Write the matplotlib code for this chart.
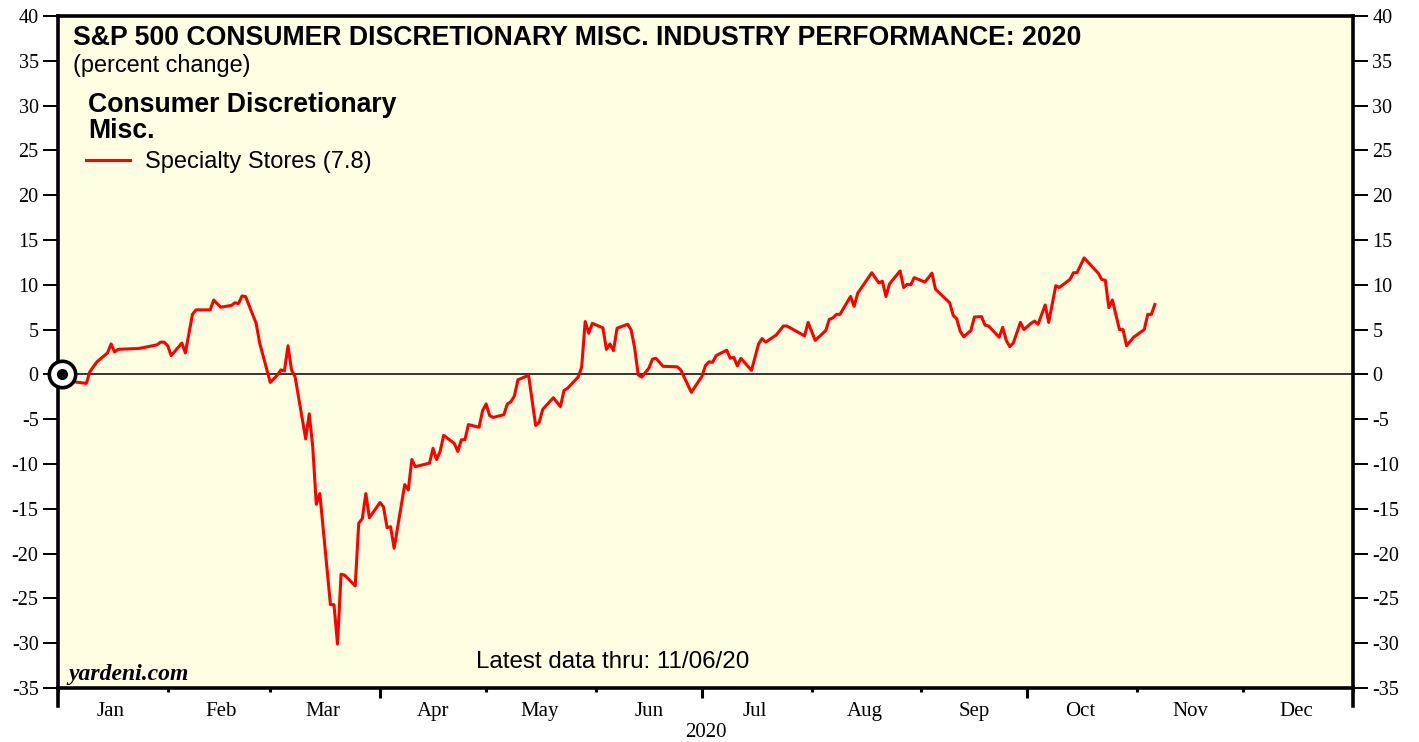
#! /usr/bin/env python3
import numpy as np
import pandas as pd
import matplotlib
matplotlib.use("Agg")
import matplotlib.pyplot as plt
import matplotlib.dates as mdates
import matplotlib.transforms as mtransforms

# day of year (0 = Jan 1 2020) and percent change since start of year
days = [1, 4, 8, 9, 11, 14, 15, 16, 17, 23, 28, 29, 30, 31, 32, 35, 36, 38, 39, 43,
        44, 46, 49, 50, 51, 52, 53, 56, 57, 60, 62, 63, 64, 65, 66, 67, 70, 71, 72, 73,
        74, 77, 78, 79, 80, 81, 84, 85, 86, 87, 88, 91, 92, 93, 94, 95, 98, 99, 100, 101,
        105, 106, 107, 108, 109, 112, 113, 114, 115, 116, 119, 120, 121, 122, 123, 126, 127, 128, 129, 130,
        133, 135, 136, 137, 140, 142, 143, 144, 147, 148, 149, 150, 151, 154, 155, 156, 157, 158, 161, 162,
        163, 164, 165, 167, 168, 169, 171, 175, 176, 179, 182, 183, 184, 185, 186, 189, 190, 191, 192, 193,
        196, 198, 199, 200, 203, 205, 206, 211, 212, 214, 217, 218, 219, 220, 221, 224, 225, 226, 230, 232,
        233, 234, 235, 238, 239, 240, 241, 242, 245, 247, 248, 252, 253, 254, 255, 256, 258, 259, 261, 262,
        263, 266, 267, 268, 269, 270, 272, 273, 275, 276, 277, 279, 280, 282, 283, 286, 287, 288, 290, 294,
        295, 296, 297, 298, 300, 301, 302, 304, 307, 308, 309, 310]
specialty = [0.0, -0.8, -1.0, 0.3, 1.4, 2.4, 3.4, 2.5, 2.8, 2.9, 3.3, 3.6, 3.6, 3.2, 2.1, 3.5, 2.4, 6.7, 7.2, 7.2,
             8.3, 7.5, 7.7, 8.0, 7.9, 8.75, 8.7, 5.7, 3.5, -0.9, -0.07, 0.5, 0.4, 3.2, 0.5, -0.25, -7.2, -4.4, -8.1, -14.5,
             -13.3, -25.7, -25.7, -30.1, -22.3, -22.4, -23.6, -16.6, -16.1, -13.3, -16.0, -14.3, -14.8, -17.1, -17.0, -19.4, -12.3, -12.9, -9.5, -10.3,
             -9.9, -8.25, -9.5, -8.6, -6.8, -7.7, -8.6, -7.3, -7.3, -5.6, -5.9, -4.05, -3.3, -4.6, -4.8, -4.5, -3.3, -3.05, -2.4, -0.6,
             -0.1, -5.7, -5.35, -3.9, -2.6, -3.6, -1.8, -1.55, -0.3, 0.8, 5.9, 4.6, 5.7, 5.2, 2.8, 3.4, 2.65, 5.15, 5.6, 4.95,
             2.9, -0.07, -0.3, 0.7, 1.7, 1.8, 0.9, 0.85, 0.5, -2.0, -0.2, 1.0, 1.4, 1.35, 2.1, 2.7, 1.8, 1.9, 0.95, 1.8,
             0.45, 3.4, 4.0, 3.6, 4.4, 5.4, 5.4, 4.3, 5.8, 3.8, 4.9, 6.15, 6.3, 6.7, 6.7, 8.7, 7.6, 9.05, 11.35, 10.2,
             10.4, 8.7, 10.1, 11.55, 9.7, 10.05, 10.0, 10.8, 10.3, 11.3, 9.5, 8.0, 6.6, 6.2, 4.8, 4.2, 4.9, 6.4, 6.45, 5.5,
             5.4, 4.15, 5.25, 3.8, 3.1, 3.5, 5.8, 5.0, 5.7, 5.95, 5.6, 7.75, 5.8, 9.9, 9.7, 10.6, 11.35, 11.35, 13.0, 11.3,
             10.6, 10.5, 7.45, 8.3, 5.0, 5.0, 3.2, 4.15, 5.0, 6.7, 6.7, 7.8]

month_labels = ["Jan", "Feb", "Mar", "Apr", "May", "Jun", "Jul", "Aug", "Sep", "Oct", "Nov", "Dec"]
y_ticks = list(range(-35, 45, 5))

W, H = 1419, 742
SANS = "Liberation Sans"
SERIF = "Liberation Serif"


def fy(py):
    # pixel row -> figure fraction
    return 1 - py / H


dates = pd.Timestamp("2020-01-01") + pd.to_timedelta(days, unit="D")

fig = plt.figure(figsize=(W / 100, H / 100), dpi=100)
ax = fig.add_axes([58 / W, fy(688), (1353 - 58) / W, (688 - 16) / H])
ax.set_facecolor("#fefee2")

ax.axhline(0, color="black", lw=1.1, zorder=2)
ax.plot(dates, specialty, color="#ff0000", lw=2.2, zorder=3)
ax.plot([dates[0]], [0], marker="o", ms=19, mfc="white", mec="black", mew=2.6, zorder=4, clip_on=False)
ax.plot([dates[0]], [0], marker="o", ms=7, color="black", zorder=5, clip_on=False)

start = pd.Timestamp("2020-01-01")
end = pd.Timestamp("2021-01-01")
ax.set_xlim(start, end)
ax.set_ylim(-35, 40)

for s in ax.spines.values():
    s.set_linewidth(2.6)

# y axis, both sides
ax.set_yticks(y_ticks)
ax.set_yticklabels([str(v) for v in y_ticks], fontfamily=SERIF, fontsize=14.5)
ax.tick_params(axis="y", which="major", left=True, right=True, labelleft=True, labelright=True,
               direction="out", length=11, width=1.4, pad=3)

# x axis: quarter ticks longer than month ticks
ax.xaxis.set_major_locator(mdates.MonthLocator(bymonth=[4, 7, 10]))
ax.xaxis.set_minor_locator(mdates.MonthLocator())
ax.xaxis.set_major_formatter(plt.NullFormatter())
ax.tick_params(axis="x", which="major", direction="out", length=7, width=2.2)
ax.tick_params(axis="x", which="minor", direction="out", length=3, width=2.2)

trans = mtransforms.blended_transform_factory(ax.transData, ax.transAxes)
for d in [start, end]:
    ax.plot([d, d], [0, -0.027], color="black", lw=2.6, transform=trans, clip_on=False)
xfig = mtransforms.blended_transform_factory(ax.transData, fig.transFigure)
for i, m in enumerate(month_labels):
    mid = pd.Timestamp(2020, i + 1, 1) + pd.Timedelta(days=15)
    ax.text(mid, fy(716), m, transform=xfig, ha="center", va="baseline", fontfamily=SERIF, fontsize=15)
fig.text((58 + 1353) / 2 / W, fy(737), "2020", ha="center", va="baseline", fontfamily=SERIF, fontsize=15)

# titles and legend
fig.text(73 / W, fy(45), "S&P 500 CONSUMER DISCRETIONARY MISC. INDUSTRY PERFORMANCE: 2020",
         ha="left", va="baseline", fontfamily=SANS, fontweight="bold", fontsize=19.2)
fig.text(73 / W, fy(72), "(percent change)", ha="left", va="baseline", fontfamily=SANS, fontsize=16.9)
fig.text(88 / W, fy(112), "Consumer Discretionary", ha="left", va="baseline",
         fontfamily=SANS, fontweight="bold", fontsize=19.2)
fig.text(88 / W, fy(138), "Misc.", ha="left", va="baseline",
         fontfamily=SANS, fontweight="bold", fontsize=19.2)
fig.add_artist(plt.Line2D([86 / W, 130 / W], [fy(160), fy(160)], color="#ff0000", lw=2.2))
fig.text(145 / W, fy(168), "Specialty Stores (7.8)", ha="left", va="baseline", fontfamily=SANS, fontsize=17)

fig.text(68 / W, fy(680), "yardeni.com", ha="left", va="baseline", fontfamily=SERIF,
         fontweight="bold", fontstyle="italic", fontsize=17)
fig.text(476 / W, fy(668), "Latest data thru: 11/06/20", ha="left", va="baseline", fontfamily=SANS, fontsize=17.4)

fig.savefig("out.png", dpi=100, facecolor="white")
